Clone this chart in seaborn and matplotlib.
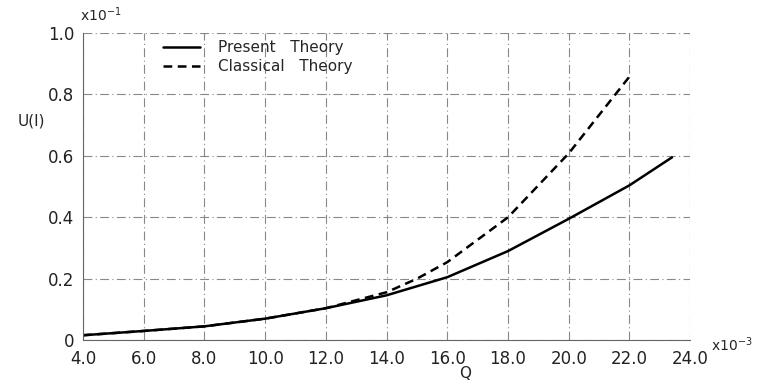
import matplotlib
matplotlib.use("Agg")
import matplotlib.pyplot as plt
import seaborn as sns
import pandas as pd

# Data (Q in units of 1e-3, U(I) in units of 1e-1)
q_present = [4.0, 6.0, 8.0, 10.0, 12.0, 14.0, 16.0, 18.0, 20.0, 22.0, 23.4]
u_present = [0.016, 0.030, 0.045, 0.070, 0.104, 0.146, 0.205, 0.290, 0.395, 0.504, 0.595]
q_classical = [4.0, 6.0, 8.0, 10.0, 12.0, 14.0, 15.0, 16.0, 18.0, 20.0, 22.0]
u_classical = [0.016, 0.030, 0.045, 0.070, 0.104, 0.156, 0.200, 0.254, 0.400, 0.608, 0.858]
x_ticks = [4.0, 6.0, 8.0, 10.0, 12.0, 14.0, 16.0, 18.0, 20.0, 22.0, 24.0]
x_tick_labels = ["4.0", "6.0", "8.0", "10.0", "12.0", "14.0", "16.0", "18.0", "20.0", "22.0", "24.0"]
y_ticks = [0, 0.2, 0.4, 0.6, 0.8, 1.0]
y_tick_labels = ["0", "0.2", "0.4", "0.6", "0.8", "1.0"]
series_names = ["Present   Theory", "Classical   Theory"]

df = pd.concat([
    pd.DataFrame({"Q": q_present, "U": u_present, "Theory": series_names[0]}),
    pd.DataFrame({"Q": q_classical, "U": u_classical, "Theory": series_names[1]}),
])

sns.set_style("white")
plt.rcParams["font.family"] = ["DejaVu Sans"]

fig = plt.figure(figsize=(7.61, 3.87), dpi=100)
ax = fig.add_axes([0.109, 0.121, 0.798, 0.794])

sns.lineplot(data=df, x="Q", y="U", style="Theory", hue="Theory",
             palette=["black", "black"],
             dashes={series_names[0]: "", series_names[1]: (3.5, 2.2)},
             linewidth=1.8, sort=False, ax=ax, legend=True)

ax.set_xlim(4.0, 24.0)
ax.set_ylim(0, 1.0)
ax.set_xticks(x_ticks)
ax.set_xticklabels(x_tick_labels, fontsize=12)
ax.set_yticks(y_ticks)
ax.set_yticklabels(y_tick_labels, fontsize=12)
ax.tick_params(axis="x", length=0, pad=7, labelcolor="#222222")
ax.tick_params(axis="y", length=0, pad=6, labelcolor="#222222")

ax.grid(True, color="#888888", linestyle=(0, (8, 3, 1, 3)), linewidth=0.8)
for s in ["top", "right"]:
    ax.spines[s].set_visible(False)
for s in ["left", "bottom"]:
    ax.spines[s].set_color("#666666")
    ax.spines[s].set_linewidth(0.8)

ax.set_xlabel("Q", fontsize=11)
ax.xaxis.set_label_coords(0.63, -0.085)
ax.set_ylabel("U(I)", fontsize=11, rotation=0)
ax.yaxis.set_label_coords(-0.085, 0.69)

ax.text(-0.005, 1.03, r"x$10^{-1}$", transform=ax.transAxes, fontsize=10, ha="left", va="bottom")
ax.text(1.035, -0.045, r"x$10^{-3}$", transform=ax.transAxes, fontsize=10, ha="left", va="bottom")

leg = ax.legend(loc="upper left", bbox_to_anchor=(0.11, 1.02), frameon=False,
                fontsize=11, handlelength=2.4, handletextpad=1.2, labelspacing=0.25)

fig.savefig("out.png", dpi=100)
